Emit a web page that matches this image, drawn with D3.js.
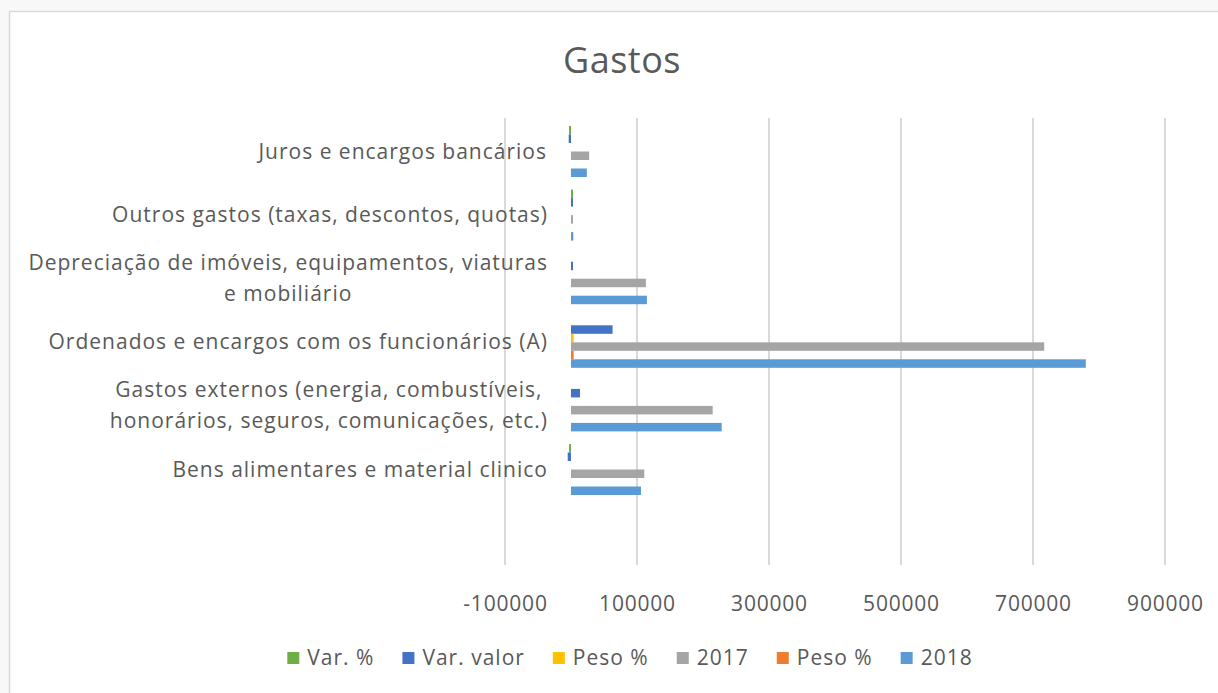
<!DOCTYPE html>
<html>
<head>
<meta charset="utf-8">
<script src="https://cdn.jsdelivr.net/npm/d3@7"></script>
<style>
  body { margin: 0; background: #f8f8f8; }
  text { font-family: "Open Sans", sans-serif; fill: #595959; }
</style>
</head>
<body>
<svg id="chart" width="1218" height="693"></svg>
<script>
// categories, bottom to top as in the sheet ("" = empty row)
var categories = [
    "",
    "Bens alimentares e material clinico",
    "Gastos externos (energia, combustíveis,\nhonorários, seguros, comunicações, etc.)",
    "Ordenados e encargos com os funcionários (A)",
    "Depreciação de imóveis, equipamentos, viaturas\ne mobiliário",
    "Outros gastos (taxas, descontos, quotas)",
    "Juros e encargos bancários"
]
var seriesNames = ["Var. %", "Var. valor", "Peso %", "2017", "Peso %", "2018"]
var seriesColors = ["#70ad47", "#4472c4", "#ffc000", "#a5a5a5", "#ed7d31", "#5b9bd5"]

var varPct   = [0, -3000, 0, 0, 0, 2500, -3000]
var varValor = [0, -5000, 13600, 63000, 2500, 2500, -3500]
var peso17   = [0, 0, 0, 4000, 0, 0, 0]
var v2017    = [0, 111000, 214700, 717000, 113500, 3000, 27500]
var peso18   = [0, 0, 0, 4000, 0, 0, 0]
var v2018    = [0, 106000, 228300, 780000, 115000, 3500, 24000]
var allSeries = [varPct, varValor, peso17, v2017, peso18, v2018]

var tickValues = [-100000, 100000, 300000, 500000, 700000, 900000]

var svg = d3.select('#chart')

// chart frame
svg.append('rect')
    .attr('x', 9.5).attr('y', 11.5)
    .attr('width', 1230).attr('height', 700)
    .attr('fill', '#fff')
    .attr('stroke', '#d9d9d9')
    .attr('stroke-width', 1.5)

svg.append('text')
    .attr('x', 622).attr('y', 73)
    .attr('text-anchor', 'middle')
    .style('font-size', '36px')
    .style('letter-spacing', '0.5px')
    .text('Gastos')

var x = d3.scaleLinear()
    .domain([-100000, 900000])
    .range([505, 1165])

// top category first on screen
var y = d3.scaleBand()
    .domain(categories.slice().reverse())
    .range([119.7, 119.7 + 63.6 * categories.length])
    .paddingInner(12.6 / 63.6)
    .paddingOuter(6.3 / 63.6)

var inner = d3.scaleBand()
    .domain(d3.range(seriesNames.length))
    .range([0, y.bandwidth()])

var plotTop = 118, plotBottom = 119.7 + 63.6 * categories.length

// gridlines
svg.append('g')
    .selectAll('line')
    .data(tickValues)
    .join('line')
    .attr('x1', d => x(d)).attr('x2', d => x(d))
    .attr('y1', plotTop).attr('y2', plotBottom)
    .attr('stroke', '#d9d9d9')
    .attr('stroke-width', 2)

// bars (tiny values still show as a thin sliver like in Excel)
allSeries.forEach(function (vals, s) {
    svg.append('g')
        .selectAll('rect')
        .data(vals.map((v, i) => ({ v: v, c: categories[i] })).filter(d => d.v !== 0))
        .join('rect')
        .attr('x', d => Math.min(x(0), x(d.v)))
        .attr('width', d => Math.max(2, Math.abs(x(d.v) - x(0))))
        .attr('y', d => y(d.c) + inner(s))
        .attr('height', inner.bandwidth())
        .attr('fill', seriesColors[s])
})

// category labels
categories.forEach(function (c) {
    if (!c) return
    var lines = c.split('\n')
    var cy = y(c) + y.bandwidth() / 2
    var t = svg.append('text')
        .attr('text-anchor', 'middle')
        .style('font-size', '21px')
        .style('letter-spacing', '1px')
    lines.forEach(function (ln, k) {
        t.append('tspan')
            .attr('x', 0)
            .attr('y', cy + (k - (lines.length - 1) / 2) * 31 + 7)
            .text(ln)
    })
    var w = t.node().getBBox().width
    t.attr('transform', 'translate(' + (548 - w / 2) + ',0)')
})

// value axis labels
var axis = svg.append('g')
    .attr('transform', 'translate(0,' + 604 + ')')
    .call(d3.axisBottom(x).tickValues(tickValues).tickFormat(d => String(d)).tickSize(0))
axis.select('.domain').remove()
axis.selectAll('text')
    .attr('dy', '0.35em')
    .attr('y', 0)
    .style('font-size', '21px')
    .style('letter-spacing', '0.8px')
    .style('fill', '#595959')
    .style('font-family', '"Open Sans", sans-serif')

// legend
var legend = svg.append('g')
var lx = 0
seriesNames.forEach(function (n, i) {
    var g = legend.append('g').attr('transform', 'translate(' + lx + ',0)')
    g.append('rect')
        .attr('x', 0).attr('y', -6)
        .attr('width', 12).attr('height', 12)
        .attr('fill', seriesColors[i])
    var t = g.append('text')
        .attr('x', 20).attr('y', 7)
        .style('font-size', '21px')
        .style('letter-spacing', '1px')
        .text(n)
    lx += 20 + t.node().getComputedTextLength() + 28
})
lx -= 28
legend.attr('transform', 'translate(' + (630 - lx / 2) + ',658)')
</script>
</body>
</html>
